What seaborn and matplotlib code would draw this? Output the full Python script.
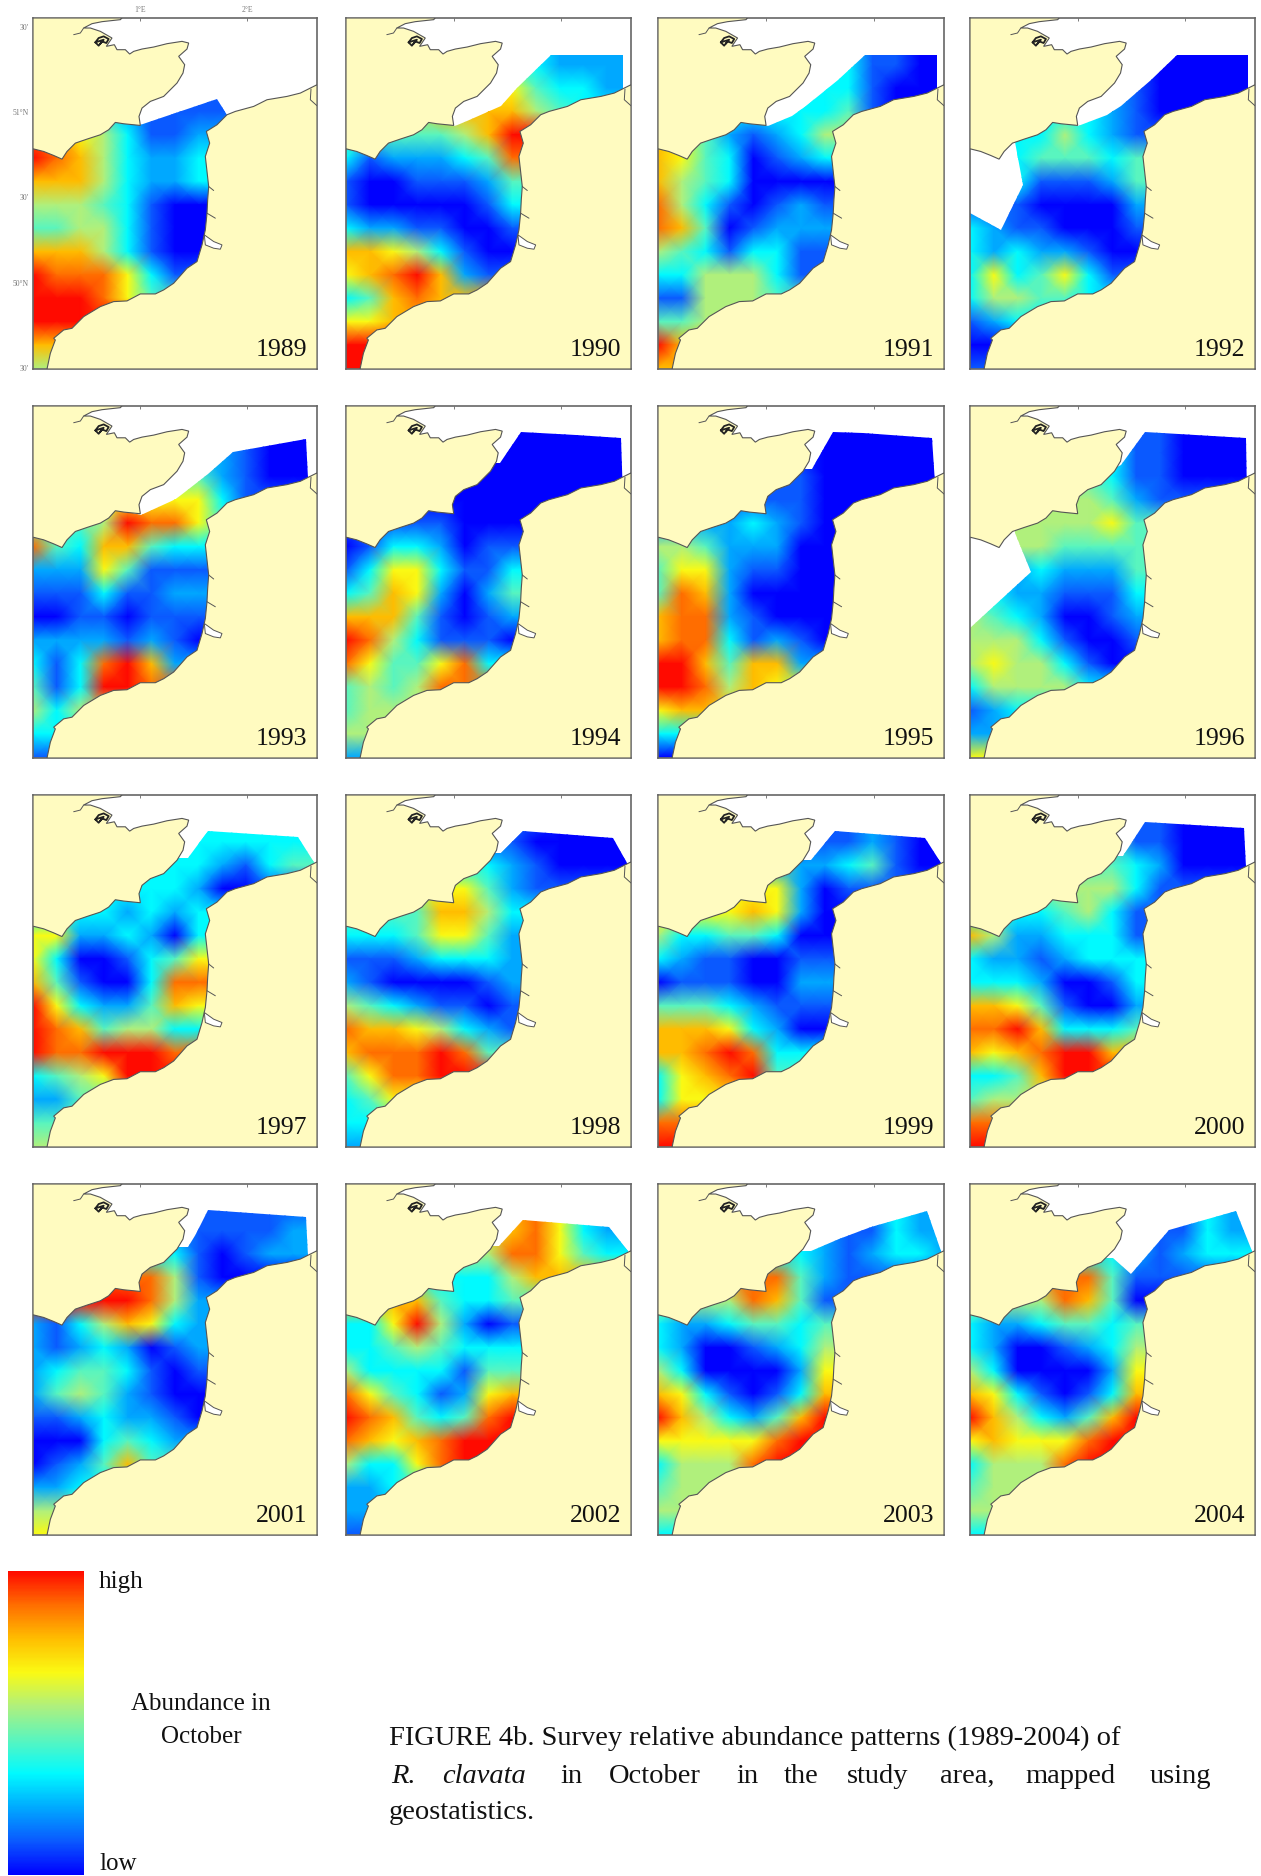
import seaborn as sns
import matplotlib.pyplot as plt
from matplotlib.patches import Polygon
from matplotlib.transforms import Affine2D

# relative abundance per grid node, 0 (low) to 9 (high)
# grid runs over the map frame, rows top to bottom, columns west to east
A1989 = [
    [1,1,1,1,1,1,1,1,1,1,1,1,1],
    [1,1,1,1,1,1,1,1,1,1,1,1,1],
    [1,1,1,1,1,1,1,1,1,1,1,1,1],
    [5,5,5,3,2,1,1,1,1,1,1,1,1],
    [8,8,6,5,3,1,1,2,2,2,2,2,2],
    [9,8,7,5,3,2,2,3,3,3,3,3,3],
    [7,7,7,5,3,2,2,3,3,3,3,3,3],
    [5,5,5,4,3,1,0,0,0,0,0,0,0],
    [4,4,5,5,3,1,0,0,0,0,0,0,0],
    [7,7,7,5,3,1,0,0,0,0,0,0,0],
    [9,8,8,8,6,3,1,1,1,1,1,1,1],
    [9,9,9,8,6,4,4,4,4,4,4,4,4],
    [9,9,9,9,9,9,9,9,9,9,9,9,9],
    [7,7,7,7,7,7,7,7,7,7,7,7,7],
    [5,5,5,5,5,5,5,5,5,5,5,5,5],
]
A1990 = [
    [2,2,2,2,2,2,2,2,3,2,2,2,2],
    [3,3,3,3,3,3,3,3,3,2,2,2,2],
    [5,5,5,5,5,5,6,6,4,3,3,2,2],
    [5,5,5,5,7,7,7,7,5,4,3,3,3],
    [4,4,4,4,4,5,7,9,9,9,9,9,9],
    [3,1,2,2,2,3,4,8,8,8,8,8,8],
    [1,0,0,1,1,1,2,4,4,4,4,4,4],
    [1,0,0,0,0,0,1,3,3,3,3,3,3],
    [3,2,2,1,1,0,0,1,1,1,1,1,1],
    [7,7,6,5,3,1,0,0,0,0,0,0,0],
    [6,7,8,9,7,2,1,1,1,1,1,1,1],
    [3,4,7,8,7,7,7,7,7,7,7,7,7],
    [6,6,7,7,7,7,7,7,7,7,7,7,7],
    [9,9,9,9,9,9,9,9,9,9,9,9,9],
    [9,9,9,9,9,9,9,9,9,9,9,9,9],
]
A1991 = [
    [3,3,3,3,3,3,3,3,3,1,1,0,0],
    [3,3,3,3,3,3,3,3,3,1,1,0,0],
    [3,3,3,3,3,3,3,3,3,1,0,0,0],
    [3,3,3,3,3,3,3,3,4,1,0,0,0],
    [7,6,4,2,1,2,3,5,5,5,5,5,5],
    [7,6,4,3,0,1,2,3,3,3,3,3,3],
    [7,5,4,3,0,0,0,0,0,0,0,0,0],
    [8,5,3,1,0,1,2,1,1,1,1,1,1],
    [8,7,4,0,1,2,2,2,2,2,2,2,2],
    [5,4,3,1,3,3,1,1,1,1,1,1,1],
    [3,3,5,5,5,3,1,1,1,1,1,1,1],
    [1,1,5,5,5,4,4,4,4,4,4,4,4],
    [4,4,5,5,5,5,5,5,5,5,5,5,5],
    [9,7,7,7,7,7,7,7,7,7,7,7,7],
    [7,7,7,7,7,7,7,7,7,7,7,7,7],
]
A1992 = [
    [1,1,1,1,1,1,1,1,0,0,0,0,0],
    [1,1,1,1,1,1,1,1,0,0,0,0,0],
    [2,2,2,2,2,2,2,1,0,0,0,0,0],
    [3,3,3,3,3,3,2,1,0,0,0,0,0],
    [3,3,3,3,5,3,2,1,1,1,1,1,1],
    [3,3,3,4,4,4,3,4,4,4,4,4,4],
    [1,1,3,1,1,1,2,4,4,4,4,4,4],
    [1,1,1,0,0,0,0,2,2,2,2,2,2],
    [3,2,1,1,0,0,0,1,1,1,1,1,1],
    [3,2,3,2,2,1,0,0,0,0,0,0,0],
    [3,6,3,4,6,3,1,1,1,1,1,1,1],
    [3,5,5,4,4,3,3,3,3,3,3,3,3],
    [1,2,3,3,3,3,3,3,3,3,3,3,3],
    [0,0,0,0,0,0,0,0,0,0,0,0,0],
    [1,1,1,1,1,1,1,1,1,1,1,1,1],
]
A1993 = [
    [2,2,2,2,2,2,2,2,2,1,0,0,0],
    [2,2,2,2,2,2,2,2,2,1,0,0,0],
    [4,4,4,4,4,4,4,4,2,1,0,0,0],
    [6,6,6,6,6,6,6,6,3,1,1,1,1],
    [4,4,4,5,9,8,8,6,4,4,4,4,4],
    [8,4,3,7,7,4,3,3,3,3,3,3,3],
    [2,2,2,6,4,1,1,1,1,1,1,1,1],
    [1,1,1,3,1,1,2,2,2,2,2,2,2],
    [0,0,1,1,0,1,1,1,1,1,1,1,1],
    [2,2,2,2,1,2,1,0,0,0,0,0,0],
    [3,1,3,8,9,7,2,2,2,2,2,2,2],
    [4,1,3,9,9,8,8,8,8,8,8,8,8],
    [5,3,5,5,5,5,5,5,5,5,5,5,5],
    [3,3,3,3,3,3,3,3,3,3,3,3,3],
    [1,1,1,1,1,1,1,1,1,1,1,1,1],
]
A1994 = [
    [0,0,0,0,0,0,0,0,0,0,0,0,0],
    [0,0,0,0,0,0,0,0,0,0,0,0,0],
    [0,0,0,0,0,0,0,0,0,0,0,0,0],
    [0,0,0,0,0,0,0,0,0,0,0,0,0],
    [1,1,1,1,1,0,0,0,0,0,0,0,0],
    [0,1,3,3,2,0,1,1,1,1,1,1,1],
    [1,3,6,6,3,1,1,3,3,3,3,3,3],
    [3,4,7,6,2,0,2,4,4,4,4,4,4],
    [7,7,7,4,1,0,1,2,2,2,2,2,2],
    [9,8,5,3,1,1,1,0,0,0,0,0,0],
    [8,6,4,4,6,8,3,3,3,3,3,3,3],
    [4,5,4,5,8,8,8,8,8,8,8,8,8],
    [4,5,5,5,5,5,5,5,5,5,5,5,5],
    [5,5,5,5,5,5,5,5,5,5,5,5,5],
    [2,2,2,2,2,2,2,2,2,2,2,2,2],
]
A1995 = [
    [0,0,0,0,0,0,0,0,0,0,0,0,0],
    [0,0,0,0,0,0,0,0,0,0,0,0,0],
    [1,1,1,1,1,1,1,0,0,0,0,0,0],
    [1,1,1,1,1,1,1,0,0,0,0,0,0],
    [2,2,2,2,3,2,1,0,0,0,0,0,0],
    [5,5,4,2,2,2,0,0,0,0,0,0,0],
    [4,6,6,2,1,1,0,0,0,0,0,0,0],
    [4,8,7,2,0,0,0,0,0,0,0,0,0],
    [7,8,8,2,1,0,0,0,0,0,0,0,0],
    [7,8,8,3,1,2,1,0,0,0,0,0,0],
    [9,9,7,4,7,7,2,2,2,2,2,2,2],
    [9,9,8,5,7,6,6,6,6,6,6,6,6],
    [6,7,7,7,7,7,7,7,7,7,7,7,7],
    [3,3,3,3,3,3,3,3,3,3,3,3,3],
    [0,0,0,0,0,0,0,0,0,0,0,0,0],
]
A1996 = [
    [2,2,2,2,2,2,2,1,1,0,0,0,0],
    [3,3,3,3,3,3,3,1,1,0,0,0,0],
    [4,4,4,4,4,4,3,1,1,0,0,0,0],
    [5,5,5,5,5,5,4,2,1,1,1,1,1],
    [5,5,5,5,5,5,6,4,4,4,4,4,4],
    [5,5,5,5,4,4,4,4,4,4,4,4,4],
    [3,3,2,3,2,2,2,4,4,4,4,4,4],
    [3,3,2,2,1,1,1,3,3,3,3,3,3],
    [5,4,3,2,0,0,1,2,2,2,2,2,2],
    [5,5,5,3,1,0,0,1,1,1,1,1,1],
    [5,6,5,5,3,1,0,0,0,0,0,0,0],
    [3,5,5,5,5,3,3,3,3,3,3,3,3],
    [1,2,3,3,3,3,3,3,3,3,3,3,3],
    [2,2,2,2,2,2,2,2,2,2,2,2,2],
    [6,6,6,6,6,6,6,6,6,6,6,6,6],
]
A1997 = [
    [3,3,3,3,3,3,3,3,3,3,3,3,3],
    [3,3,3,3,3,3,3,3,3,3,3,3,3],
    [3,3,3,3,3,3,3,3,2,1,3,4,4],
    [3,3,3,3,3,3,3,2,0,0,1,1,1],
    [3,3,3,3,2,3,2,3,3,3,3,3,3],
    [6,6,2,2,3,2,0,3,3,3,3,3,3],
    [6,3,0,0,1,3,4,6,6,6,6,6,6],
    [7,4,1,0,0,3,8,8,8,8,8,8,8],
    [9,6,3,2,2,4,7,6,6,6,6,6,6],
    [9,8,7,4,5,5,3,3,3,3,3,3,3],
    [9,8,8,9,9,9,8,8,8,8,8,8,8],
    [3,4,5,6,9,9,9,9,9,9,9,9,9],
    [2,2,4,4,4,4,4,4,4,4,4,4,4],
    [4,4,4,4,4,4,4,4,4,4,4,4,4],
    [5,5,5,5,5,5,5,5,5,5,5,5,5],
]
A1998 = [
    [1,1,1,1,1,1,1,1,1,0,0,0,0],
    [1,1,1,1,1,1,1,1,0,0,0,0,0],
    [3,3,3,3,3,3,3,2,1,0,0,0,0],
    [6,6,6,6,6,6,4,2,1,1,1,1,1],
    [4,4,4,4,7,7,5,3,3,3,3,3,3],
    [3,3,3,4,6,6,4,2,2,2,2,2,2],
    [1,1,1,2,3,3,3,2,2,2,2,2,2],
    [2,1,0,0,0,0,1,2,2,2,2,2,2],
    [5,4,3,2,1,1,0,1,1,1,1,1,1],
    [8,7,7,6,5,3,2,1,1,1,1,1,1],
    [7,8,8,8,9,8,4,4,4,4,4,4,4],
    [4,6,8,8,9,9,9,9,9,9,9,9,9],
    [3,4,6,6,6,6,6,6,6,6,6,6,6],
    [3,3,3,3,3,3,3,3,3,3,3,3,3],
    [2,2,2,2,2,2,2,2,2,2,2,2,2],
]
A1999 = [
    [1,1,1,1,1,1,1,1,1,2,1,0,0],
    [1,1,1,1,1,1,1,1,1,2,1,0,0],
    [2,2,2,2,2,2,2,2,3,4,1,0,0],
    [6,6,6,6,6,6,2,0,1,1,1,1,1],
    [6,6,6,6,7,6,2,0,0,0,0,0,0],
    [5,3,3,4,4,3,0,0,0,0,0,0,0],
    [3,2,1,1,0,0,1,1,1,1,1,1,1],
    [0,1,1,1,0,0,2,2,2,2,2,2,2],
    [4,4,4,3,2,1,1,1,1,1,1,1,1],
    [7,7,7,6,3,2,0,0,0,0,0,0,0],
    [7,7,8,9,8,3,3,3,3,3,3,3,3],
    [3,6,7,8,9,4,4,4,4,4,4,4,4],
    [3,6,6,6,6,6,6,6,6,6,6,6,6],
    [8,8,8,8,8,8,8,8,8,8,8,8,8],
    [9,9,9,9,9,9,9,9,9,9,9,9,9],
]
A2000 = [
    [1,1,1,1,1,1,1,1,1,0,0,0,0],
    [4,4,4,4,4,4,4,1,1,0,0,0,0],
    [4,4,4,4,4,4,4,3,2,0,0,0,0],
    [5,5,5,5,5,5,5,3,1,1,1,1,1],
    [3,3,3,3,4,5,3,1,1,1,1,1,1],
    [7,5,2,2,3,3,3,1,1,1,1,1,1],
    [3,2,2,1,2,3,3,3,3,3,3,3,3],
    [3,3,3,2,0,0,1,3,3,3,3,3,3],
    [7,7,6,4,1,0,0,2,2,2,2,2,2],
    [8,8,9,7,3,3,3,4,4,4,4,4,4],
    [7,6,7,8,9,9,7,7,7,7,7,7,7],
    [3,3,4,7,9,9,9,9,9,9,9,9,9],
    [4,5,5,5,5,5,5,5,5,5,5,5,5],
    [8,8,8,8,8,8,8,8,8,8,8,8,8],
    [9,9,9,9,9,9,9,9,9,9,9,9,9],
]
A2001 = [
    [1,1,1,1,1,1,1,1,1,1,1,1,1],
    [1,1,1,1,1,1,1,1,1,1,1,2,2],
    [3,3,3,3,3,3,3,1,0,1,2,2,2],
    [8,8,8,8,8,8,5,1,0,0,0,0,0],
    [9,9,9,9,9,8,5,2,2,2,2,2,2],
    [2,1,3,5,7,6,3,2,2,2,2,2,2],
    [2,1,2,3,2,0,1,2,2,2,2,2,2],
    [2,3,4,4,3,1,0,1,1,1,1,1,1],
    [2,4,5,4,2,1,0,0,0,0,0,0,0],
    [1,1,2,3,2,2,1,0,0,0,0,0,0],
    [0,0,0,3,4,3,2,2,2,2,2,2,2],
    [0,1,2,4,7,4,4,4,4,4,4,4,4],
    [2,2,3,3,3,3,3,3,3,3,3,3,3],
    [5,5,5,5,5,5,5,5,5,5,5,5,5],
    [6,6,6,6,6,6,6,6,6,6,6,6,6],
]
A2002 = [
    [7,7,7,7,7,7,7,7,8,6,3,2,2],
    [7,7,7,7,7,7,7,7,8,6,3,2,2],
    [5,5,5,5,5,5,5,8,8,6,4,3,3],
    [3,3,3,3,3,3,3,5,7,7,7,7,7],
    [7,7,7,7,4,3,3,4,4,4,4,4,4],
    [3,3,6,9,5,2,0,1,1,1,1,1,1],
    [3,3,4,5,4,3,3,3,3,3,3,3,3],
    [5,3,3,3,3,1,4,4,4,4,4,4,4],
    [8,6,4,3,1,2,6,7,7,7,7,7,7],
    [9,8,7,4,3,4,8,9,9,9,9,9,9],
    [8,7,6,7,8,9,9,9,9,9,9,9,9],
    [5,3,3,6,8,9,9,9,9,9,9,9,9],
    [2,2,3,3,3,3,3,3,3,3,3,3,3],
    [2,2,2,2,2,2,2,2,2,2,2,2,2],
    [1,1,1,1,1,1,1,1,1,1,1,1,1],
]
A2003 = [
    [3,3,3,3,3,3,3,2,2,2,3,2,2],
    [3,3,3,3,3,3,3,2,1,1,3,2,2],
    [3,3,3,3,3,3,3,2,1,2,3,3,2],
    [8,8,8,8,8,8,4,2,1,1,1,1,1],
    [5,5,5,5,8,7,4,1,1,1,1,1,1],
    [3,2,2,3,4,4,3,4,4,4,4,4,4],
    [3,2,0,0,1,2,3,5,5,5,5,5,5],
    [5,3,0,0,0,0,2,6,6,6,6,6,6],
    [7,6,3,1,0,1,3,7,7,7,7,7,7],
    [9,7,5,3,2,4,7,9,9,9,9,9,9],
    [6,6,6,6,6,8,9,9,9,9,9,9,9],
    [3,5,5,5,8,9,9,9,9,9,9,9,9],
    [4,5,5,5,5,5,5,5,5,5,5,5,5],
    [5,5,5,5,5,5,5,5,5,5,5,5,5],
    [3,3,3,3,3,3,3,3,3,3,3,3,3],
]
A2004 = [
    [3,3,3,3,3,3,3,2,1,1,3,2,2],
    [3,3,3,3,3,3,3,2,1,1,3,2,2],
    [3,3,3,3,3,3,3,2,1,2,3,3,3],
    [8,8,8,8,8,8,4,1,1,1,1,1,1],
    [5,5,5,5,8,7,4,0,0,0,0,0,0],
    [3,2,2,3,4,4,3,4,4,4,4,4,4],
    [3,2,0,0,1,2,3,5,5,5,5,5,5],
    [5,3,0,0,0,0,2,6,6,6,6,6,6],
    [7,6,3,1,0,1,3,7,7,7,7,7,7],
    [9,7,5,3,2,4,7,9,9,9,9,9,9],
    [6,7,6,6,6,8,9,9,9,9,9,9,9],
    [3,5,5,5,8,9,9,9,9,9,9,9,9],
    [4,5,5,5,5,5,5,5,5,5,5,5,5],
    [5,5,5,5,5,5,5,5,5,5,5,5,5],
    [3,3,3,3,3,3,3,3,3,3,3,3,3],
]
YEARS = [1989, 1990, 1991, 1992, 1993, 1994, 1995, 1996,
         1997, 1998, 1999, 2000, 2001, 2002, 2003, 2004]
ABUNDANCE = [A1989, A1990, A1991, A1992, A1993, A1994, A1995, A1996,
             A1997, A1998, A1999, A2000, A2001, A2002, A2003, A2004]

# northern limit of the surveyed area each year, traced in map units
SURVEY_1989 = [(690,360),(680,345),(650,297),(420,375),(300,350),(98,350)]
SURVEY_1990 = [(926,330),(926,165),(710,165),(609,265),(562,320),(460,365),(425,378),(300,350),(98,350)]
SURVEY_1991 = [(928,330),(928,165),(716,165),(633,240),(538,320),(497,350),(426,378),(300,350),(98,350)]
SURVEY_1992 = [(928,330),(928,165),(718,165),(638,240),(548,320),(508,345),(420,378),(300,350),(233,380),
               (233,428),(255,555),(191,690),(98,640)]
SURVEY_1993 = [(927,330),(918,155),(698,192),(624,257),(526,332),(422,380),(300,350),(98,350)]
SURVEY_1994 = [(926,330),(920,152),(786,142),(621,132),(558,225),(98,225)]
SURVEY_1995 = [(926,330),(915,152),(708,137),(620,132),(557,242),(98,242)]
SURVEY_1996 = [(926,330),(923,152),(621,132),(550,232),(300,350),(233,380),(233,435),(280,552),(98,719)]
SURVEY_1997 = [(950,270),(894,181),(624,163),(563,243),(98,243)]
SURVEY_1998 = [(945,270),(939,258),(896,183),(628,163),(560,228),(98,228)]
SURVEY_1999 = [(945,270),(941,258),(892,183),(626,163),(555,248),(98,248)]
SURVEY_2000 = [(926,330),(917,153),(621,135),(556,238),(98,238)]
SURVEY_2001 = [(927,330),(918,153),(624,133),(587,205),(563,245),(98,245)]
SURVEY_2002 = [(945,270),(941,257),(884,183),(627,163),(554,240),(98,240)]
SURVEY_2003 = [(945,270),(941,255),(898,137),(732,185),(637,220),(555,255),(98,255)]
SURVEY_2004 = [(945,270),(940,255),(893,137),(692,193),(579,325),(526,277),(98,277)]
SURVEYS = [SURVEY_1989, SURVEY_1990, SURVEY_1991, SURVEY_1992, SURVEY_1993, SURVEY_1994,
           SURVEY_1995, SURVEY_1996, SURVEY_1997, SURVEY_1998, SURVEY_1999, SURVEY_2000,
           SURVEY_2001, SURVEY_2002, SURVEY_2003, SURVEY_2004]

# coastlines in the same map units
ENGLAND = [(98,447),(130,455),(160,467),(185,478),(200,455),(225,430),(260,418),(300,405),(325,390),
           (345,368),(370,372),(420,377),(416,350),(425,325),(450,305),(490,290),(530,250),(548,220),
           (553,195),(535,170),(560,148),(565,130),(545,125),(500,132),(460,142),(425,148),(400,155),
           (388,163),(375,150),(350,150),(342,135),(318,140),(335,115),(300,95),(270,85),(250,85),
           (275,72),(305,66),(360,60),(365,55),(98,55)]
FRANCE = [(140,1107),(150,1060),(165,1020),(160,1015),(190,990),(215,985),(250,950),(300,920),(340,905),
          (380,903),(420,882),(465,882),(490,870),(520,850),(560,805),(590,785),(605,735),(615,690),
          (620,640),(622,600),(625,560),(615,470),(628,430),(618,395),(650,375),(680,345),(705,335),
          (760,320),(800,300),(860,290),(900,280),(950,255),(950,1107)]
SOMME = [(615,735),(612,705),(640,725),(665,735),(660,748),(640,745)]
CANCHE = [(620,640),(645,655)]
AUTHIE = [(625,560),(640,572)]
YSER = [(932,268),(930,300),(950,318)]
THAMES = [(250,85),(240,100),(220,105)]
SHEPPEY = [(285,128),(295,115),(310,110),(325,118),(318,130),(305,125),(295,138),(285,128),(310,120),(300,132)]

# axes corners in pixels of the page
COL_PX = [(33, 317), (346, 631), (658, 944), (970, 1255)]
ROW_PX = [(18, 369), (406, 758), (795, 1147), (1184, 1535)]
W, H = 1261, 1876

TOP_TICKS = [420, 740]
TOP_LABELS = ["1°E", "2°E"]
LEFT_TICKS = [82, 338, 592, 848, 1103]
LEFT_LABELS = ["30'", "51°N", "30'", "50°N", "30'"]

LAND = "#fffbc0"
COAST = "#555555"
JET = ["#0000ff", "#0a5aff", "#00aaff", "#00faff", "#5af5be",
       "#aff07d", "#fafa14", "#ffbe00", "#ff6e00", "#ff0a00"]

sns.set_theme(style="white")
plt.rcParams["font.family"] = ["Liberation Serif", "DejaVu Serif"]
cmap = sns.blend_palette(JET, as_cmap=True)

fig = plt.figure(figsize=(W / 100, H / 100), dpi=100)


def add_axes(x0, x1, y0, y1):
    return fig.add_axes([x0 / W, 1 - y1 / H, (x1 - x0) / W, (y1 - y0) / H])


def draw_panel(ax, year, values, survey, first):
    grid = Affine2D().scale(71, 70).translate(98, 125) + ax.transData
    sns.heatmap(values, ax=ax, cmap=cmap, vmin=0, vmax=9, cbar=False,
                xticklabels=False, yticklabels=False,
                shading="gouraud", transform=grid)
    mesh = ax.collections[0]
    outline = [(98, 1107), (950, 1107)] + survey
    mesh.set_clip_path(Polygon(outline, closed=True, transform=ax.transData))

    ax.set_xlim(98, 950)
    ax.set_ylim(1107, 55)
    ax.set_facecolor("white")
    for land in (ENGLAND, FRANCE):
        ax.add_patch(Polygon(land, closed=True, facecolor=LAND, edgecolor=COAST, linewidth=0.8, zorder=3))
    ax.add_patch(Polygon(SOMME, closed=True, facecolor="white", edgecolor=COAST, linewidth=0.7, zorder=4))
    for line in (CANCHE, AUTHIE, YSER, THAMES):
        ax.plot(*zip(*line), color=COAST, linewidth=0.7, zorder=4)
    ax.plot(*zip(*SHEPPEY), color="#222222", linewidth=1.3, zorder=4)

    for spine in ax.spines.values():
        spine.set_visible(True)
        spine.set_color("#666666")
        spine.set_linewidth(1.2)
    ax.set_xlabel("")
    ax.set_ylabel("")
    ax.xaxis.tick_top()
    ax.set_xticks(TOP_TICKS)
    ax.set_yticks(LEFT_TICKS)
    ax.set_xticklabels(TOP_LABELS if first else [])
    ax.set_yticklabels(LEFT_LABELS if first else [])
    ax.tick_params(axis="both", direction="in", length=2, width=0.6, color="#666666",
                   labelsize=5.5, labelcolor="#777777", pad=3)
    ax.text(920, 1050, str(year), ha="right", va="center", fontsize=18.5, color="#111111", zorder=5)
    return mesh


mesh = None
for i, (year, values, survey) in enumerate(zip(YEARS, ABUNDANCE, SURVEYS)):
    x0, x1 = COL_PX[i % 4]
    y0, y1 = ROW_PX[i // 4]
    ax = add_axes(x0, x1, y0, y1)
    m = draw_panel(ax, year, values, survey, i == 0)
    if mesh is None:
        mesh = m

# colour key
cax = add_axes(8, 84, 1571, 1875)
cbar = fig.colorbar(mesh, cax=cax)
cbar.set_ticks([])
cbar.outline.set_visible(False)


def page_text(x, y, s, **kw):
    fig.text(x / W, 1 - y / H, s, va="center", color="#111111", **kw)


page_text(99, 1582, "high", fontsize=18)
page_text(99, 1864, "low", fontsize=18)
page_text(201, 1704, "Abundance in", fontsize=18, ha="center")
page_text(201, 1737, "October", fontsize=18, ha="center")

page_text(389, 1738, "FIGURE 4b. Survey relative abundance patterns (1989-2004) of", fontsize=20.5)
LINE2_WORDS = ["R.", "clavata", "in", "October", "in", "the", "study", "area,", "mapped", "using"]
LINE2_X = [391, 442, 560, 609, 736, 784, 847, 940, 1025, 1150]
for word, x in zip(LINE2_WORDS, LINE2_X):
    page_text(x, 1776, word, fontsize=20.5, style="italic" if word in ("R.", "clavata") else "normal")
page_text(389, 1812, "geostatistics.", fontsize=20.5)

fig.savefig("out.png", dpi=100, facecolor="white")
